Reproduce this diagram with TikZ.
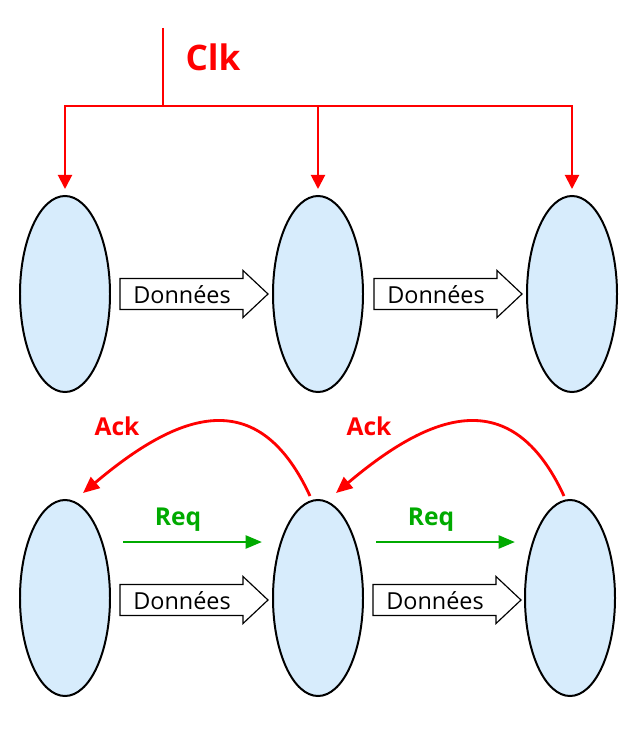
\documentclass[tikz,border=0pt]{standalone}
\usepackage{fontspec}
\setmainfont{Open Sans}
\usetikzlibrary{shapes.geometric,arrows.meta}
\definecolor{cellfill}{HTML}{D7ECFC}
\definecolor{reqgreen}{HTML}{00AA00}
\tikzset{
  cell/.style={ellipse,draw=black,line width=1.7pt,fill=cellfill,minimum width=2.7cm,minimum height=5.88cm,inner sep=0pt},
  clkline/.style={draw=red,line width=1.7pt},
  clkarrow/.style={draw=red,line width=1.7pt,-{Triangle[length=12pt,width=12pt]}},
  ackarrow/.style={draw=red,line width=2.4pt,-{Triangle[length=14pt,width=12pt]}},
  reqarrow/.style={draw=reqgreen,line width=2.4pt,-{Triangle[length=14pt,width=11pt]}},
  lbl/.style={font=\fontsize{21}{24}\selectfont\bfseries,inner sep=0pt},
  dtext/.style={font=\fontsize{20}{24}\selectfont,inner sep=0pt},
  darr/.pic={
    \draw[line width=1pt,fill=white] (0,-15.5) -- (123,-15.5) -- (123,-23.5) -- (148,0) -- (123,23.5) -- (123,15.5) -- (0,15.5) -- cycle;
    \node[dtext] at (62,1) {Données};
  }
}
\begin{document}
\begin{tikzpicture}[x=0.03cm,y=-0.03cm]
\useasboundingbox (0,0) rectangle (640,732);
% top row
\node[cell] (t1) at (65,294) {};
\node[cell] (t2) at (318,294) {};
\node[cell] (t3) at (572,294) {};
% clock
\coordinate (clktop) at (163,28);
\coordinate (jn) at (163,106);
\node[font=\fontsize{30}{34}\selectfont\bfseries,text=red,inner sep=0pt] (clk) at (213,57) {Clk};
\draw[clkline] (clktop) -- (jn);
\draw[clkarrow] (jn) -| ([yshift=0.18cm]t1.north);
\draw[clkarrow] (jn) -| ([yshift=0.18cm]t2.north);
\draw[clkarrow] (jn) -| ([yshift=0.18cm]t3.north);
% top data arrows
\pic at (120,294) {darr};
\pic at (374,294) {darr};
% bottom row
\node[cell] (b1) at (65,598) {};
\node[cell] (b2) at (318,598) {};
\node[cell] (b3) at (570,598) {};
\pic at (120,600) {darr};
\pic at (373,600) {darr};
% req
\coordinate (r1s) at (123,542);
\coordinate (r1e) at (262,542);
\coordinate (r2s) at (376,542);
\coordinate (r2e) at (515,542);
\draw[reqarrow] (r1s) -- (r1e);
\draw[reqarrow] (r2s) -- (r2e);
\node[lbl,text=reqgreen] (req1) at (178,520) {Req};
\node[lbl,text=reqgreen] (req2) at (431,520) {Req};
% ack
\coordinate (a1s) at (310,496);
\coordinate (a1e) at (83,493);
\coordinate (a2s) at (564,496);
\coordinate (a2e) at (336,493);
\draw[ackarrow] (a1s) .. controls (257.5,382.6) and (178,412.75) .. (a1e);
\draw[ackarrow] (a2s) .. controls (511.5,382.6) and (431,412.75) .. (a2e);
\node[lbl,text=red] (ack1) at (117,426) {Ack};
\node[lbl,text=red] (ack2) at (369,426) {Ack};
\end{tikzpicture}
\end{document}
